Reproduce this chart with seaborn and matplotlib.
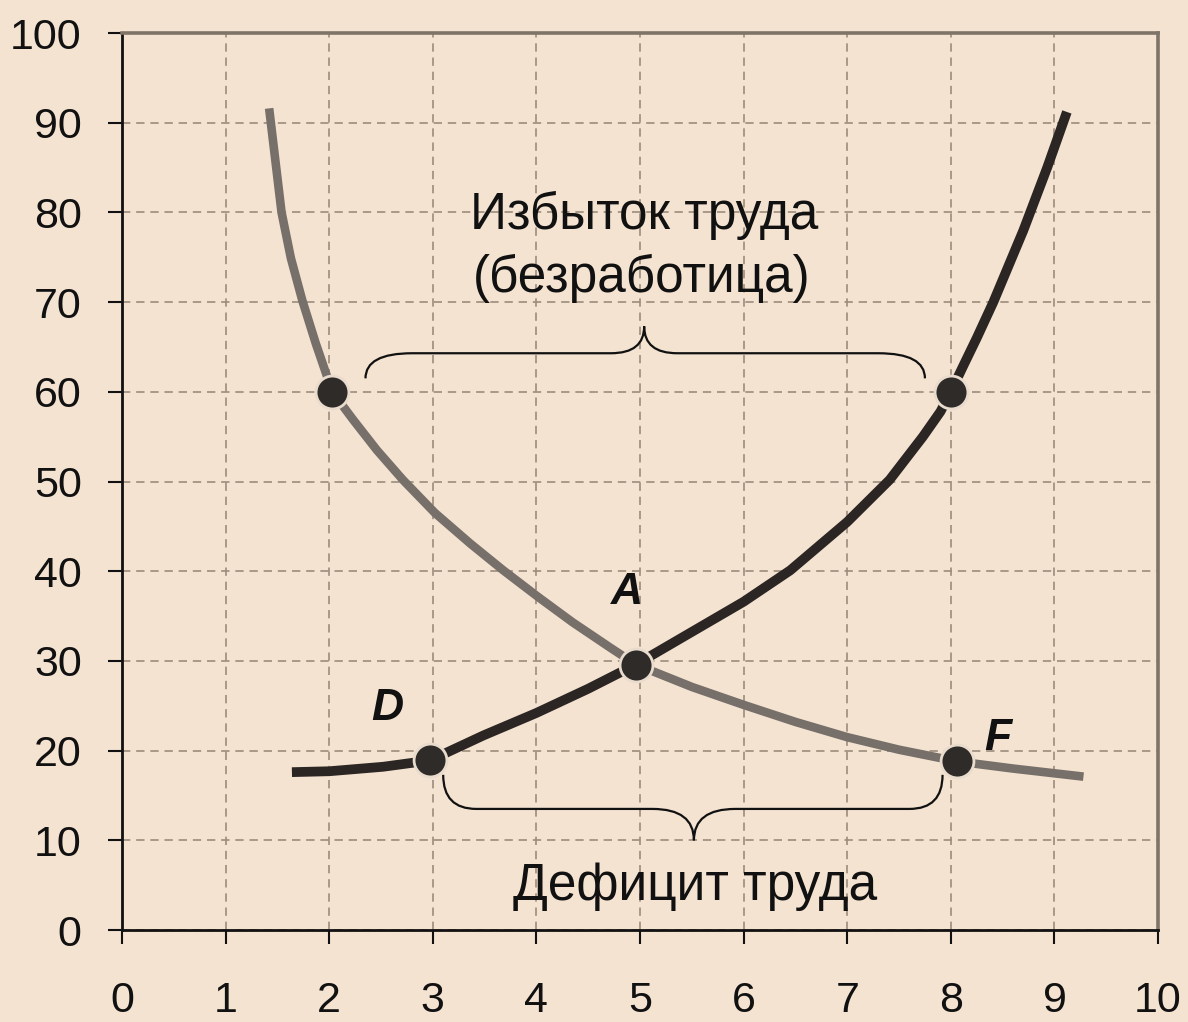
import numpy as np
import pandas as pd
import matplotlib
matplotlib.use("Agg")
import matplotlib.pyplot as plt
from matplotlib.path import Path
from matplotlib.patches import PathPatch
import seaborn as sns

# demand curve (grey)
demand_x = [1.42, 1.48, 1.54, 1.63, 1.74, 1.87, 2.03, 2.23, 2.46, 2.71, 3.02, 3.36,
            3.68, 4.02, 4.35, 4.71, 4.96, 5.5, 6.0, 6.5, 7.0, 7.5, 8.06, 8.6, 9.28]
demand_y = [91.6, 85.8, 80.0, 74.9, 70.2, 65.4, 60.0, 56.9, 53.5, 50.2, 46.5, 43.1,
            40.1, 37.1, 34.3, 31.5, 29.6, 27.1, 25.1, 23.2, 21.5, 20.1, 18.8, 18.0, 17.1]

# supply curve (dark)
supply_x = [1.64, 2.0, 2.52, 2.97, 3.49, 4.0, 4.5, 4.96, 5.48, 6.0, 6.45, 7.0,
            7.41, 7.73, 7.9, 8.0, 8.12, 8.25, 8.41, 8.70, 8.93, 9.12]
supply_y = [17.6, 17.7, 18.2, 18.9, 21.7, 24.2, 26.9, 29.6, 33.1, 36.6, 40.1, 45.5,
            50.2, 55.0, 57.8, 60.0, 62.9, 66.0, 70.0, 78.0, 85.0, 91.2]

# marked points
pt_x = [2.03, 8.0, 4.96, 2.97, 8.06]
pt_y = [60.0, 60.0, 29.6, 18.9, 18.8]

# point letters
lab_text = ["A", "D", "F"]
lab_x = [4.87, 2.56, 8.45]
lab_y = [37.6, 24.7, 21.4]

xticks = list(range(0, 11))
yticks = list(range(0, 101, 10))

bg = "#F4E3D1"

sns.set_theme(style="white")
plt.rcParams["font.family"] = ["Liberation Sans", "DejaVu Sans"]

fig = plt.figure(figsize=(11.88, 10.22), dpi=100, facecolor=bg)
ax = fig.add_axes([0.1027, 0.09, 0.8721, 0.8777])
ax.set_facecolor(bg)

df_d = pd.DataFrame({"x": demand_x, "y": demand_y})
df_s = pd.DataFrame({"x": supply_x, "y": supply_y})
sns.lineplot(data=df_d, x="x", y="y", ax=ax, color="#77706a", linewidth=6.2,
             sort=False, estimator=None, solid_capstyle="butt",
             solid_joinstyle="round", zorder=3)
sns.lineplot(data=df_s, x="x", y="y", ax=ax, color="#2b2623", linewidth=7,
             sort=False, estimator=None, solid_capstyle="butt",
             solid_joinstyle="round", zorder=4)
sns.scatterplot(x=pt_x, y=pt_y, ax=ax, s=560, color="#2e2b29",
                edgecolor="#e9dccd", linewidth=2, zorder=5)

for t, x, y in zip(lab_text, lab_x, lab_y):
    ax.text(x, y, t, fontsize=32, fontweight="bold", fontstyle="italic",
            ha="center", va="center", color="#111111", zorder=6)


def brace(ax, x0, x1, y_end, y_line, x_tip, y_tip, curl, tipw):
    # curly brace: ends at y_end, long bar at y_line, point at (x_tip, y_tip)
    verts = [(x0, y_end), (x0, y_line), (x0 + curl, y_line),
             (x_tip - tipw, y_line),
             (x_tip, y_line), (x_tip, y_tip),
             (x_tip, y_line), (x_tip + tipw, y_line),
             (x1 - curl, y_line),
             (x1, y_line), (x1, y_end)]
    codes = [Path.MOVETO, Path.CURVE3, Path.CURVE3,
             Path.LINETO,
             Path.CURVE3, Path.CURVE3,
             Path.CURVE3, Path.CURVE3,
             Path.LINETO,
             Path.CURVE3, Path.CURVE3]
    ax.add_patch(PathPatch(Path(verts, codes), fill=False, lw=1.6,
                           edgecolor="#111111", zorder=2))


brace(ax, 2.35, 7.75, 61.5, 64.3, 5.04, 67.3, 0.45, 0.32)
brace(ax, 3.1, 7.92, 17.3, 13.5, 5.52, 10.0, 0.32, 0.4)

ax.text(5.04, 78.1, "Избыток труда", fontsize=37, ha="center", va="baseline",
        color="#111111", zorder=6)
ax.text(5.02, 71.1, "(безработица)", fontsize=37, ha="center", va="baseline",
        color="#111111", zorder=6)
ax.text(5.53, 3.3, "Дефицит труда", fontsize=37, ha="center", va="baseline",
        color="#111111", zorder=6)

ax.set_xlim(0, 10)
ax.set_ylim(0, 100)
ax.set_xticks(xticks)
ax.set_yticks(yticks)
ax.set_xlabel("")
ax.set_ylabel("")
ax.grid(True, color="#9c8c7c", linewidth=1.2, linestyle=(0, (5, 3.5)))
ax.set_axisbelow(True)

for side in ["left", "bottom"]:
    ax.spines[side].set_color("#111111")
    ax.spines[side].set_linewidth(2)
for side in ["top", "right"]:
    ax.spines[side].set_color("#7f7468")
    ax.spines[side].set_linewidth(2.6)

ax.tick_params(axis="both", which="major", bottom=True, left=True,
               direction="out", length=10, width=1.5,
               color="#111111", labelcolor="#111111", labelsize=31)
ax.tick_params(axis="x", pad=27)
ax.tick_params(axis="y", pad=19)

fig.savefig("out.png", dpi=100, facecolor=bg)
